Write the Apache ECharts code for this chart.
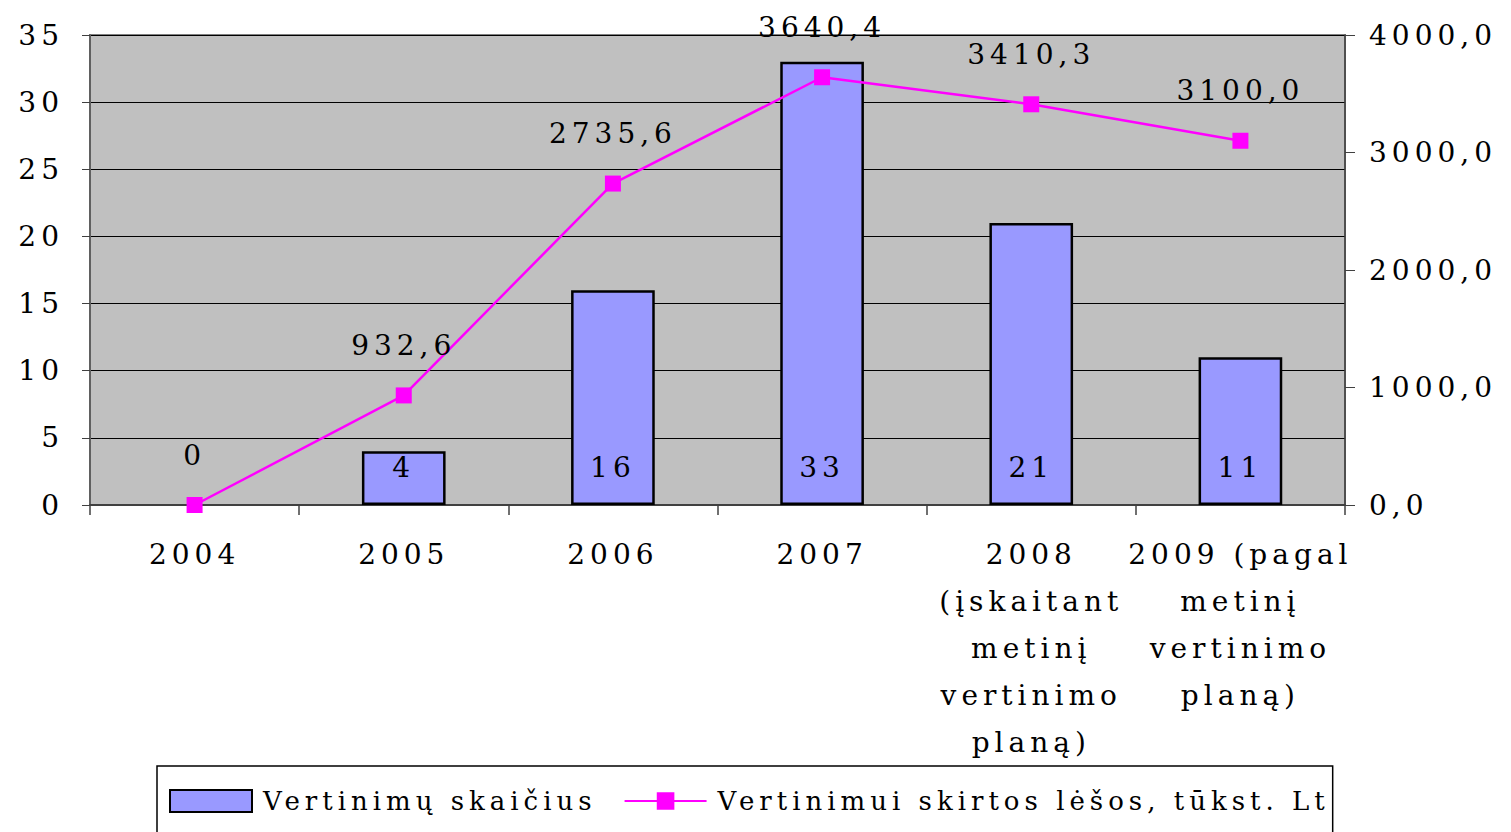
<!DOCTYPE html>
<html>
<head>
<meta charset="utf-8">
<script src="https://cdn.jsdelivr.net/npm/echarts@6/dist/echarts.min.js"></script>
<style>
  html, body { margin: 0; padding: 0; background: #fff; }
  #chart { width: 1511px; height: 832px; }
  /* the original text is set with wide character spacing */
  #chart text { letter-spacing: 5px; }
</style>
</head>
<body>
<div id="chart"></div>
<script>
const years = ['2004', '2005', '2006', '2007', '2008\n(įskaitant\nmetinį\nvertinimo\nplaną)', '2009 (pagal\nmetinį\nvertinimo\nplaną)'];
const vertinimuSkaicius = [0, 4, 16, 33, 21, 11];
const lesos = [0, 932.6, 2735.6, 3640.4, 3410.3, 3100.0];

const font = 'DejaVu Serif';
const fs = 28;
const fmt = v => v.toFixed(1).replace('.', ',');

let myChart = echarts.init(document.querySelector('#chart'), null, { renderer: 'svg' });
myChart.setOption({
  animation: false,
  textStyle: { fontFamily: font, color: '#000' },
  grid: {
    left: 90,
    right: 166,
    top: 35,
    bottom: 327,
    show: true,
    backgroundColor: '#c0c0c0',
    borderColor: '#808080',
    borderWidth: 2
  },
  legend: {
    left: 157,
    top: 766,
    padding: [22, 178, 30, 12],
    itemGap: 117,
    itemWidth: 82,
    itemHeight: 22,
    borderColor: '#000',
    borderWidth: 1.5,
    textStyle: { fontFamily: font, fontSize: 26, color: '#000', padding: [0, 0, 0, 6] },
    data: [
      { name: 'Vertinimų skaičius', icon: 'rect' },
      'Vertinimui skirtos lėšos, tūkst. Lt'
    ]
  },
  xAxis: {
    type: 'category',
    data: years,
    axisLine: { lineStyle: { color: '#404040', width: 2 } },
    axisTick: { show: true, length: 10, lineStyle: { color: '#404040', width: 1.5 } },
    axisLabel: {
      interval: 0,
      margin: 26,
      fontSize: fs,
      lineHeight: 47,
      color: '#000',
      fontFamily: font
    }
  },
  yAxis: [
    {
      type: 'value',
      min: 0,
      max: 35,
      interval: 5,
      axisLine: { show: true, lineStyle: { color: '#606060', width: 2 } },
      axisTick: { show: true, length: 8, lineStyle: { color: '#404040' } },
      splitLine: { lineStyle: { color: '#000', width: 1 } },
      axisLabel: { fontSize: fs, margin: 26, color: '#000', fontFamily: font }
    },
    {
      type: 'value',
      min: 0,
      max: 4000,
      interval: 1000,
      position: 'right',
      axisLine: { show: true, lineStyle: { color: '#404040', width: 1.5 } },
      axisTick: { show: true, length: 10, lineStyle: { color: '#404040' } },
      splitLine: { show: false },
      axisLabel: { fontSize: fs, margin: 24, color: '#000', fontFamily: font, formatter: fmt }
    }
  ],
  series: [
    {
      name: 'Vertinimų skaičius',
      type: 'bar',
      data: vertinimuSkaicius.map(v => (v === 0 ? { value: v, itemStyle: { borderWidth: 0 } } : v)),
      barWidth: '40%',
      itemStyle: { color: '#9999ff', borderColor: '#000', borderWidth: 2.5 },
      label: {
        show: true,
        position: 'insideBottom',
        distance: 24,
        fontSize: fs,
        color: '#000',
        fontFamily: font,
        formatter: p => (p.value === 0 ? '' : String(p.value))
      }
    },
    {
      name: 'Vertinimui skirtos lėšos, tūkst. Lt',
      type: 'line',
      yAxisIndex: 1,
      data: lesos,
      symbol: 'rect',
      symbolSize: 16,
      lineStyle: { color: '#ff00ff', width: 2.5 },
      itemStyle: { color: '#ff00ff' },
      label: {
        show: true,
        position: 'top',
        distance: 28,
        fontSize: fs,
        color: '#000',
        fontFamily: font,
        formatter: p => (p.value === 0 ? '0' : fmt(p.value))
      }
    }
  ]
});
</script>
</body>
</html>
